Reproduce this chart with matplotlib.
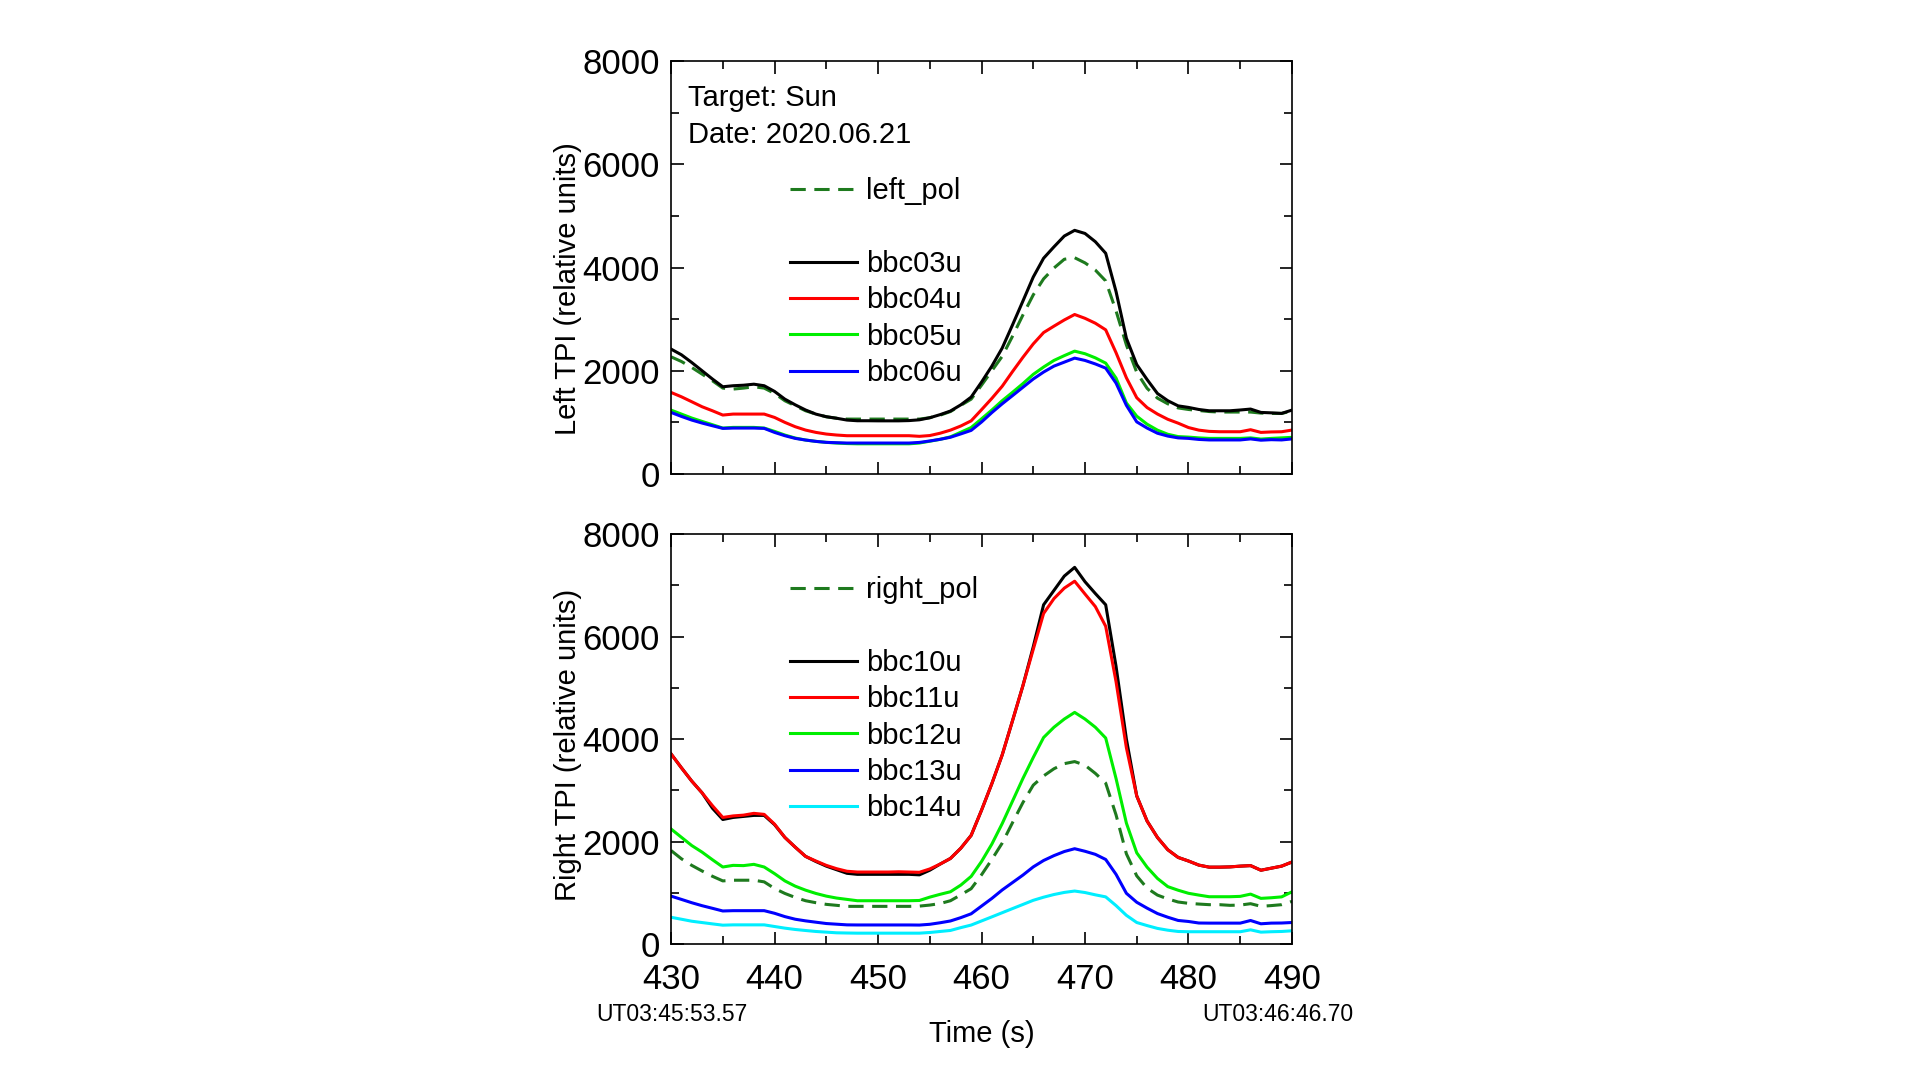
import numpy as np
import matplotlib as mpl
import matplotlib.pyplot as plt
from matplotlib.lines import Line2D
from matplotlib.ticker import MultipleLocator

mpl.rc('font', family=['Liberation Sans', 'DejaVu Sans'], size=21)
mpl.rc('figure', facecolor='w')

##### DATA #####

timeSec = list(range(430, 491))

# left polarisation (top panel)
leftPol = [2270, 2180, 2064, 1935, 1806, 1664, 1645, 1664, 1690, 1664,
           1561, 1419, 1322, 1225, 1161, 1109, 1080, 1064, 1064, 1064,
           1064, 1064, 1064, 1064, 1064, 1090, 1140, 1210, 1330, 1450,
           1720, 2000, 2280, 2670, 3080, 3470, 3780, 3990, 4160, 4190,
           4090, 3950, 3740, 3160, 2500, 1970, 1660, 1470, 1360, 1280,
           1250, 1230, 1210, 1200, 1200, 1200, 1200, 1180, 1174, 1174, 1220]
bbc03u = [2420, 2310, 2160, 2000, 1840, 1690, 1710, 1720, 1740, 1710,
          1600, 1450, 1340, 1240, 1160, 1110, 1080, 1045, 1032, 1032,
          1030, 1030, 1030, 1035, 1050, 1090, 1150, 1220, 1340, 1490,
          1780, 2090, 2440, 2890, 3350, 3815, 4180, 4400, 4610, 4720,
          4660, 4500, 4276, 3535, 2630, 2120, 1830, 1560, 1420, 1320,
          1290, 1250, 1225, 1225, 1225, 1240, 1258, 1193, 1185, 1174, 1238]
bbc04u = [1580, 1496, 1400, 1303, 1225, 1142, 1161, 1161, 1161, 1161,
          1096, 1000, 916, 851, 806, 774, 755, 742, 742, 742,
          742, 742, 742, 742, 730, 745, 790, 850, 930, 1030,
          1245, 1465, 1700, 1985, 2260, 2520, 2740, 2864, 2984, 3090,
          3016, 2921, 2793, 2350, 1864, 1478, 1287, 1162, 1060, 985,
          900, 850, 826, 819, 819, 819, 858, 806, 815, 819, 851]
bbc05u = [1238, 1161, 1084, 1019, 955, 890, 903, 903, 903, 890,
          826, 755, 697, 658, 632, 613, 600, 590, 585, 585,
          585, 585, 585, 585, 600, 635, 672, 720, 810, 900,
          1068, 1239, 1420, 1583, 1751, 1930, 2072, 2200, 2293, 2380,
          2330, 2250, 2148, 1858, 1376, 1120, 965, 850, 770, 725,
          715, 700, 690, 690, 690, 690, 700, 677, 690, 700, 710]
bbc06u = [1193, 1116, 1045, 987, 935, 884, 890, 890, 890, 884,
          806, 742, 690, 658, 632, 613, 606, 600, 600, 600,
          600, 600, 600, 600, 612, 640, 672, 712, 777, 845,
          1007, 1190, 1360, 1519, 1680, 1840, 1975, 2090, 2167, 2245,
          2200, 2132, 2051, 1761, 1330, 1010, 890, 790, 735, 700,
          690, 670, 660, 660, 660, 660, 680, 655, 665, 660, 680]

# right polarisation (bottom panel)
rightPol = [1825, 1664, 1535, 1425, 1322, 1232, 1245, 1245, 1245, 1213,
            1084, 987, 909, 845, 806, 774, 755, 735, 735, 735,
            735, 735, 735, 735, 740, 760, 790, 845, 960, 1080,
            1350, 1650, 1970, 2370, 2760, 3100, 3280, 3420, 3520, 3560,
            3490, 3330, 3140, 2520, 1760, 1330, 1090, 955, 880, 820,
            794, 780, 768, 768, 755, 760, 787, 736, 750, 768, 832]
bbc10u = [3710, 3440, 3180, 2950, 2650, 2430, 2470, 2490, 2510, 2510,
          2330, 2080, 1890, 1710, 1610, 1520, 1450, 1380, 1360, 1360,
          1360, 1360, 1360, 1360, 1350, 1440, 1560, 1670, 1870, 2120,
          2610, 3130, 3690, 4360, 5040, 5800, 6620, 6900, 7180, 7350,
          7070, 6840, 6620, 5420, 4000, 2890, 2400, 2080, 1840, 1690,
          1620, 1540, 1500, 1500, 1505, 1520, 1530, 1440, 1480, 1520, 1600]
bbc11u = [3710, 3440, 3180, 2950, 2700, 2470, 2500, 2515, 2550, 2530,
          2340, 2080, 1890, 1710, 1620, 1535, 1470, 1420, 1405, 1405,
          1405, 1405, 1410, 1405, 1400, 1465, 1560, 1670, 1870, 2120,
          2610, 3130, 3690, 4360, 5040, 5750, 6450, 6740, 6945, 7080,
          6830, 6585, 6200, 5120, 3830, 2890, 2400, 2080, 1840, 1690,
          1620, 1540, 1500, 1500, 1505, 1520, 1530, 1440, 1480, 1520, 1600]
bbc12u = [2245, 2083, 1922, 1793, 1645, 1503, 1535, 1530, 1555, 1503,
          1374, 1232, 1129, 1051, 987, 935, 897, 871, 845, 845,
          845, 845, 845, 845, 850, 915, 970, 1020, 1150, 1320,
          1610, 1950, 2350, 2790, 3230, 3640, 4030, 4230, 4390, 4520,
          4390, 4230, 4020, 3230, 2360, 1780, 1500, 1280, 1120, 1050,
          990, 955, 923, 923, 923, 930, 974, 891, 903, 920, 1019]
bbc13u = [935, 871, 806, 748, 697, 645, 651, 651, 651, 651,
          600, 535, 484, 452, 426, 400, 387, 374, 372, 372,
          372, 372, 372, 372, 370, 385, 415, 450, 515, 590,
          740, 890, 1055, 1200, 1345, 1505, 1630, 1725, 1805, 1860,
          1810, 1750, 1650, 1360, 990, 815, 700, 595, 523, 460,
          440, 410, 408, 408, 408, 408, 459, 395, 408, 410, 420]
bbc14u = [522, 484, 445, 419, 393, 368, 374, 374, 374, 374,
          342, 310, 284, 264, 245, 232, 219, 215, 212, 212,
          212, 212, 212, 212, 212, 225, 245, 265, 320, 370,
          450, 530, 611, 692, 772, 853, 914, 966, 1007, 1034,
          1005, 960, 920, 750, 560, 420, 360, 305, 270, 245,
          240, 240, 240, 240, 240, 240, 277, 232, 240, 245, 258]

utStart = "UT03:45:53.57"
utEnd = "UT03:46:46.70"

##### STYLE #####

polColor = "#1e7a1e"
lw = 2.2
dashPat = (5, 2.8)

fig = plt.figure(figsize=(19.2, 10.8), dpi=100)
axTop = fig.add_axes([0.3495, 0.5611, 0.3234, 0.3824])
axBot = fig.add_axes([0.3495, 0.1259, 0.3234, 0.3796])


def style_axis(ax):
    ax.set_xlim(430, 490)
    ax.set_ylim(0, 8000)
    ax.xaxis.set_major_locator(MultipleLocator(10))
    ax.xaxis.set_minor_locator(MultipleLocator(5))
    ax.yaxis.set_major_locator(MultipleLocator(2000))
    ax.yaxis.set_minor_locator(MultipleLocator(1000))
    ax.tick_params(which='both', direction='in', top=True, right=True, width=1.2)
    ax.tick_params(which='major', length=9, labelsize=25)
    ax.tick_params(axis='y', which='major', pad=8)
    ax.tick_params(axis='x', which='major', pad=14)
    ax.tick_params(which='minor', length=6)
    for sp in ax.spines.values():
        sp.set_linewidth(1.2)


blank = Line2D([], [], color='none')
legKw = dict(loc='upper left', frameon=False, borderpad=0, borderaxespad=0,
             handlelength=2.3, handletextpad=0.3, labelspacing=0.285, fontsize=21)

# top panel
lp, = axTop.plot(timeSec, leftPol, color=polColor, lw=lw, dashes=dashPat)
l3, = axTop.plot(timeSec, bbc03u, color='k', lw=lw)
l4, = axTop.plot(timeSec, bbc04u, color='#ff0000', lw=lw)
l5, = axTop.plot(timeSec, bbc05u, color='#00ee00', lw=lw)
l6, = axTop.plot(timeSec, bbc06u, color='#0000ff', lw=lw)
style_axis(axTop)
axTop.tick_params(labelbottom=False)
axTop.set_ylabel('Left TPI (relative units)', fontsize=21)
axTop.yaxis.set_label_coords(-0.143, 0.448)
axTop.text(0.027, 0.9105, 'Target: Sun', transform=axTop.transAxes, va='center', fontsize=21)
axTop.text(0.027, 0.822, 'Date: 2020.06.21', transform=axTop.transAxes, va='center', fontsize=21)
axTop.legend([lp, blank, l3, l4, l5, l6],
             ['left_pol', ' ', 'bbc03u', 'bbc04u', 'bbc05u', 'bbc06u'],
             bbox_to_anchor=(0.192, 0.7185), **legKw)

# bottom panel
rp, = axBot.plot(timeSec, rightPol, color=polColor, lw=lw, dashes=dashPat)
r10, = axBot.plot(timeSec, bbc10u, color='k', lw=lw)
r11, = axBot.plot(timeSec, bbc11u, color='#ff0000', lw=lw)
r12, = axBot.plot(timeSec, bbc12u, color='#00ee00', lw=lw)
r13, = axBot.plot(timeSec, bbc13u, color='#0000ff', lw=lw)
r14, = axBot.plot(timeSec, bbc14u, color='#00eeff', lw=lw)
style_axis(axBot)
axBot.set_ylabel('Right TPI (relative units)', fontsize=21)
axBot.yaxis.set_label_coords(-0.143, 0.485)
axBot.set_xlabel('Time (s)', fontsize=21)
axBot.xaxis.set_label_coords(0.5, -0.185)
axBot.legend([rp, blank, r10, r11, r12, r13, r14],
             ['right_pol', ' ', 'bbc10u', 'bbc11u', 'bbc12u', 'bbc13u', 'bbc14u'],
             bbox_to_anchor=(0.192, 0.8966), **legKw)

fig.text(0.35, 0.0611, utStart, ha='center', va='center', fontsize=16.5)
fig.text(0.6656, 0.0611, utEnd, ha='center', va='center', fontsize=16.5)

fig.savefig('out.png', dpi=100)
